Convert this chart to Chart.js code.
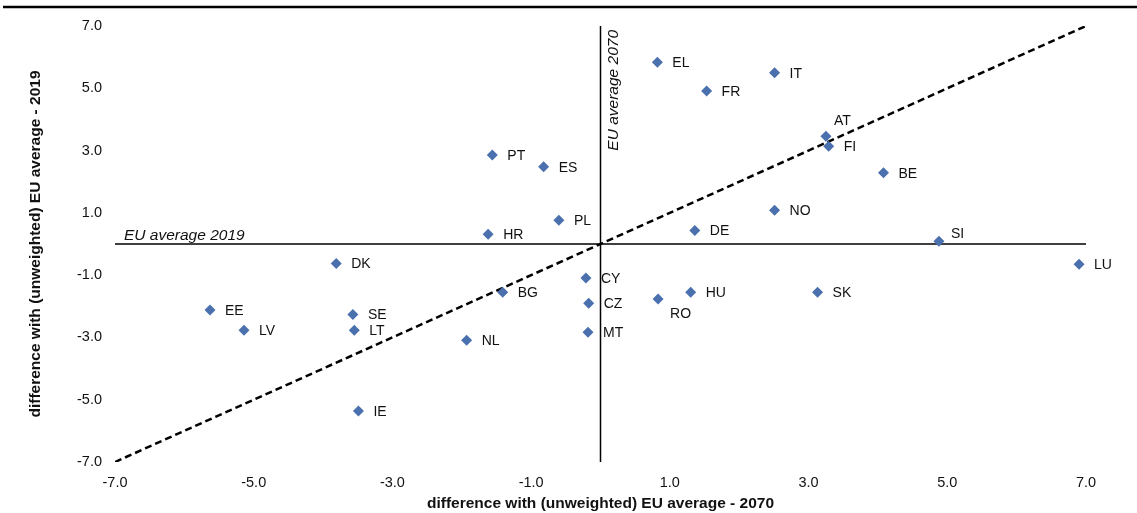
<!DOCTYPE html>
<html>
<head>
<meta charset="utf-8">
<script src="https://cdn.jsdelivr.net/npm/chart.js@4"></script>
<style>
  html, body { margin: 0; padding: 0; background: #fff; }
</style>
</head>
<body>
<canvas id="chart" width="1137" height="513"></canvas>
<script>
const countries = ['EL', 'IT', 'FR', 'AT', 'FI', 'BE', 'PT', 'ES', 'PL', 'HR', 'NO', 'DE', 'SI', 'DK',
  'CY', 'LU', 'HU', 'SK', 'BG', 'CZ', 'RO', 'EE', 'SE', 'LV', 'LT', 'NL', 'MT', 'IE'];
const diff2070 = [0.82, 2.51, 1.53, 3.25, 3.29, 4.08, -1.56, -0.82, -0.60, -1.62, 2.51, 1.36, 4.88, -3.81,
  -0.21, 6.90, 1.30, 3.13, -1.41, -0.17, 0.83, -5.63, -3.57, -5.14, -3.55, -1.93, -0.18, -3.49];
const diff2019 = [5.84, 5.50, 4.91, 3.46, 3.14, 2.29, 2.86, 2.48, 0.76, 0.31, 1.08, 0.43, 0.09, -0.63,
  -1.09, -0.65, -1.55, -1.55, -1.55, -1.90, -1.77, -2.12, -2.26, -2.77, -2.77, -3.09, -2.83, -5.36];
const tickValues = [-7, -5, -3, -1, 1, 3, 5, 7];
const axisMin = -7;
const axisMax = 7;
const euAverage = 0;

// labels sit to the right of the marker, a few are moved
const labelShift = { AT: [8, -15], SI: [12, -7], RO: [12, 15] };

const canvas = document.getElementById('chart');
const points = countries.map((c, i) => ({ x: diff2070[i], y: diff2019[i] }));
const fontFamily = '"Liberation Sans", Arial, sans-serif';

const setTicks = scale => { scale.ticks = tickValues.map(v => ({ value: v })); };
const tickFmt = v => v.toFixed(1);

const decor = {
  id: 'decor',
  beforeDraw(chart) {
    const ctx = chart.ctx;
    ctx.save();
    ctx.fillStyle = '#fff';
    ctx.fillRect(0, 0, chart.width, chart.height);
    ctx.strokeStyle = '#000';
    ctx.lineWidth = 2.5;
    ctx.beginPath();
    ctx.moveTo(3, 7);
    ctx.lineTo(chart.width, 7);
    ctx.stroke();
    ctx.restore();
  },
  afterDatasetsDraw(chart) {
    const ctx = chart.ctx;
    const xs = chart.scales.x, ys = chart.scales.y;
    ctx.save();
    ctx.fillStyle = '#111';
    ctx.font = '14px ' + fontFamily;
    ctx.textBaseline = 'middle';
    ctx.textAlign = 'left';
    chart.getDatasetMeta(0).data.forEach((el, i) => {
      const s = labelShift[countries[i]] || [15, 1];
      ctx.fillText(countries[i], el.x + s[0], el.y + s[1]);
    });

    ctx.font = 'italic 15.5px ' + fontFamily;
    ctx.textBaseline = 'bottom';
    ctx.fillText('EU average 2019', xs.getPixelForValue(axisMin) + 9, ys.getPixelForValue(euAverage) - 1);

    ctx.translate(xs.getPixelForValue(euAverage) + 5, ys.getPixelForValue(axisMax) + 4);
    ctx.rotate(-Math.PI / 2);
    ctx.textAlign = 'right';
    ctx.textBaseline = 'top';
    ctx.fillText('EU average 2070', 0, 0);
    ctx.restore();
  }
};

new Chart(canvas, {
  type: 'scatter',
  data: {
    datasets: [{
      data: points,
      pointStyle: 'rectRot',
      pointRadius: 5.5,
      backgroundColor: '#4a70ad',
      borderColor: '#4a70ad',
      borderWidth: 0
    }, {
      type: 'line',
      data: [{ x: axisMin, y: axisMin }, { x: axisMax, y: axisMax }],
      borderColor: '#000',
      borderWidth: 2.5,
      borderDash: [7, 4],
      pointRadius: 0
    }, {
      type: 'line',
      data: [{ x: axisMin, y: euAverage }, { x: axisMax, y: euAverage }],
      borderColor: '#000',
      borderWidth: 1.5,
      pointRadius: 0
    }, {
      type: 'line',
      data: [{ x: euAverage, y: axisMin }, { x: euAverage, y: axisMax }],
      borderColor: '#000',
      borderWidth: 1.5,
      pointRadius: 0
    }]
  },
  options: {
    responsive: false,
    animation: false,
    events: [],
    layout: { padding: { top: 26, right: 51, left: 0, bottom: 0 } },
    plugins: {
      legend: { display: false },
      tooltip: { enabled: false }
    },
    scales: {
      x: {
        type: 'linear',
        min: axisMin,
        max: axisMax,
        afterBuildTicks: setTicks,
        afterFit: s => { s.height = 51; },
        grid: { display: false, drawTicks: false },
        border: { display: false },
        ticks: {
          callback: tickFmt,
          color: '#111',
          padding: 12,
          maxRotation: 0,
          font: { family: fontFamily, size: 14.5 }
        },
        title: {
          display: true,
          text: 'difference with (unweighted) EU average - 2070',
          color: '#111',
          padding: { top: 0, bottom: 0 },
          font: { family: fontFamily, size: 15.5, weight: 'bold' }
        }
      },
      y: {
        type: 'linear',
        min: axisMin,
        max: axisMax,
        afterBuildTicks: setTicks,
        afterFit: s => { s.width = 115; },
        grid: { display: false, drawTicks: false },
        border: { display: false },
        ticks: {
          callback: tickFmt,
          color: '#111',
          padding: 13,
          font: { family: fontFamily, size: 14.5 }
        },
        title: {
          display: true,
          text: 'difference with (unweighted) EU average - 2019',
          color: '#111',
          padding: { top: 26, bottom: 0 },
          font: { family: fontFamily, size: 15.5, weight: 'bold' }
        }
      }
    }
  },
  plugins: [decor]
});
</script>
</body>
</html>
